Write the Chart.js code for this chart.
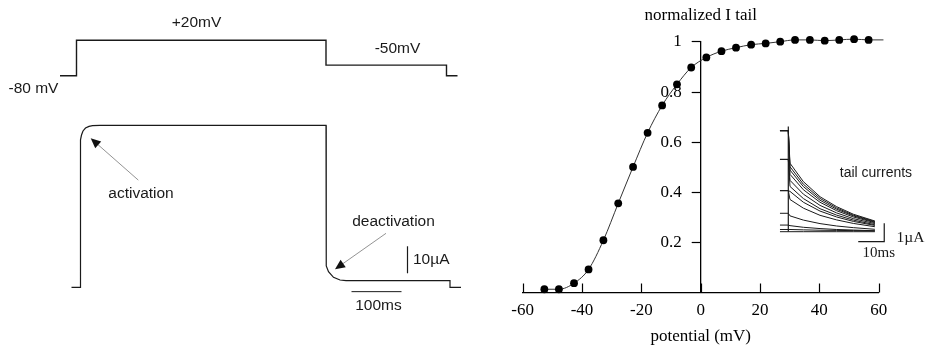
<!DOCTYPE html>
<html>
<head>
<meta charset="utf-8">
<script src="https://cdn.jsdelivr.net/npm/chart.js@4.4.1/dist/chart.umd.min.js"></script>
<style>
  html, body { margin: 0; padding: 0; background: #fff; }
  #wrap { position: relative; width: 928px; height: 347px; overflow: hidden; }
  canvas { position: absolute; }
  #protocol { left: 0; top: 0; }
  #curve { left: 480px; top: 0; }
  #tails { left: 770px; top: 120px; }
</style>
</head>
<body>
<div id="wrap">
  <canvas id="protocol" width="470" height="347"></canvas>
  <canvas id="curve" width="448" height="347"></canvas>
  <canvas id="tails" width="158" height="140"></canvas>
</div>
<script>
// ---- left panel: voltage step and the current it evokes (ms / mV / µA)
const protocolTime = [0, 33, 33, 532, 532, 773, 773, 795];
const protocolVolt = [-80, -80, 20, 20, -50, -50, -80, -80];

const currentTime = [23, 41, 41, 43, 46, 51, 58, 65, 80, 532, 532, 533, 537, 547, 560, 572, 780, 780, 802];
const currentAmp  = [0, 0, 54.6, 56.4, 57.9, 59.0, 59.6, 59.9, 60, 60, 10.1, 7.9, 5.8, 3.7, 2.7, 2.5, 2.5, 0, 0];

const barTimeMs = [583, 683];     // 100 ms bar
const barAmpUA = [5.2, 15.2];     // 10 µA bar

// ---- right panel: activation curve
const potential = [-52.7, -47.8, -42.7, -37.8, -32.8, -27.8, -22.8, -17.9, -13, -8, -3.2, 1.9,
                   7, 11.9, 17, 21.9, 26.8, 31.8, 36.8, 41.8, 46.7, 51.7, 56.6, 61.6];
const normTail = [0.013, 0.013, 0.037, 0.092, 0.208, 0.355, 0.50, 0.636, 0.745, 0.829, 0.896, 0.936,
                  0.961, 0.975, 0.987, 0.992, 0.999, 1.006, 1.006, 1.003, 1.006, 1.009, 1.006, 1.006];
const xTicks = [-60, -40, -20, 0, 20, 40, 60];
const yTicks = [0.2, 0.4, 0.6, 0.8, 1];

// ---- inset: tail currents (ms / µA)
const tailTime = [-3.2, 0, 0.65, 5.8, 12.2, 18.6, 25, 33.3];
const tailPre = [5.49, 5.49, 5.49, 5.49, 3.93, 3.93, 2.23, 2.23, 1.0, 0.36, 0.12, 0];
const tailDecay = [
  [3.72, 2.72, 1.90, 1.36, 0.95, 0.58],
  [3.53, 2.58, 1.81, 1.29, 0.90, 0.55],
  [3.35, 2.45, 1.71, 1.22, 0.86, 0.52],
  [3.12, 2.28, 1.60, 1.14, 0.80, 0.49],
  [2.79, 2.04, 1.43, 1.02, 0.71, 0.44],
  [2.46, 1.80, 1.25, 0.90, 0.63, 0.38],
  [2.19, 1.60, 1.12, 0.80, 0.56, 0.34],
  [1.75, 1.28, 0.89, 0.64, 0.45, 0.27],
  [0.86, 0.63, 0.44, 0.31, 0.22, 0.13],
  [0.33, 0.24, 0.17, 0.12, 0.09, 0.05],
  [0.12, 0.10, 0.08, 0.07, 0.06, 0.05],
  [0, 0, 0, 0, 0, 0]
];
const spikeTime = [0, 0];
const spikeAmp = [5.71, 0];
const tailBarTime = [26.9, 36.9];   // 10 ms
const tailBarAmp = [-0.54, 0.46];   // 1 µA

const SANS = "'Liberation Sans', Arial, sans-serif";
const SERIF = "'Liberation Serif', 'Times New Roman', serif";

const pts = (xs, ys) => xs.map((x, i) => ({ x: x, y: ys[i] }));

// text labels and arrows placed through the chart scales
const notes = {
  id: 'notes',
  afterDatasetsDraw(chart, args, opts) {
    const ctx = chart.ctx;
    const sx = chart.scales.x;
    ctx.save();
    (opts.arrows || []).forEach(a => {
      const sy = chart.scales[a.axis];
      const x1 = sx.getPixelForValue(a.from[0]), y1 = sy.getPixelForValue(a.from[1]);
      const x2 = sx.getPixelForValue(a.to[0]), y2 = sy.getPixelForValue(a.to[1]);
      const ang = Math.atan2(y2 - y1, x2 - x1);
      ctx.strokeStyle = '#777';
      ctx.lineWidth = 0.8;
      ctx.beginPath();
      ctx.moveTo(x1, y1);
      ctx.lineTo(x2 - 7 * Math.cos(ang), y2 - 7 * Math.sin(ang));
      ctx.stroke();
      ctx.fillStyle = '#111';
      ctx.beginPath();
      ctx.moveTo(x2, y2);
      ctx.lineTo(x2 - 10 * Math.cos(ang) + 4.5 * Math.sin(ang), y2 - 10 * Math.sin(ang) - 4.5 * Math.cos(ang));
      ctx.lineTo(x2 - 10 * Math.cos(ang) - 4.5 * Math.sin(ang), y2 - 10 * Math.sin(ang) + 4.5 * Math.cos(ang));
      ctx.closePath();
      ctx.fill();
    });
    (opts.items || []).forEach(n => {
      const sy = chart.scales[n.axis || 'y'];
      ctx.font = n.font || opts.font;
      ctx.fillStyle = '#1a1a1a';
      ctx.textAlign = n.align || 'center';
      ctx.textBaseline = 'middle';
      ctx.fillText(n.text, sx.getPixelForValue(n.x), sy.getPixelForValue(n.y));
    });
    ctx.restore();
  }
};

// x ticks of the curve point up into the plot; y ticks and labels sit left of the y axis at x = 0
const crossAxes = {
  id: 'crossAxes',
  afterDraw(chart) {
    const sx = chart.scales.x, sy = chart.scales.y, ctx = chart.ctx;
    ctx.save();
    ctx.strokeStyle = '#000';
    ctx.lineWidth = 1.2;
    sx.ticks.forEach(t => {
      const px = Math.round(sx.getPixelForValue(t.value)) + 0.5;
      ctx.beginPath();
      ctx.moveTo(px, sx.top);
      ctx.lineTo(px, sx.top - 9);
      ctx.stroke();
    });
    const ax = sx.getPixelForValue(0);
    ctx.font = '17px ' + SERIF;
    ctx.fillStyle = '#000';
    ctx.textAlign = 'right';
    ctx.textBaseline = 'middle';
    sy.ticks.forEach(t => {
      const py = Math.round(sy.getPixelForValue(t.value)) + 0.5;
      ctx.beginPath();
      ctx.moveTo(ax, py);
      ctx.lineTo(ax - 9, py);
      ctx.stroke();
      ctx.fillText(String(Math.round(t.value * 10) / 10), ax - 19, py);
    });
    ctx.restore();
  }
};

const trace = (data, yAxisID, width) => ({
  data: data, yAxisID: yAxisID, showLine: true, pointRadius: 0,
  borderColor: '#1a1a1a', borderWidth: width || 1.2, tension: 0, clip: false
});

new Chart(document.getElementById('protocol'), {
  type: 'scatter',
  data: {
    datasets: [
      trace(pts(protocolTime, protocolVolt), 'yV', 1.4),
      trace(pts(currentTime, currentAmp), 'yI', 1.2),
      trace(pts(barTimeMs, [-1.6, -1.6]), 'yI', 1),
      trace(pts([695, 695], barAmpUA), 'yI', 1.2)
    ]
  },
  options: {
    responsive: false,
    animation: false,
    layout: { padding: 0 },
    scales: {
      x: { type: 'linear', display: false, min: -120, max: 820 },
      yV: { type: 'linear', display: false, min: -843.9, max: 133.5 },
      yI: { type: 'linear', display: false, min: -22.1, max: 106.4 }
    },
    plugins: {
      legend: { display: false },
      tooltip: { enabled: false },
      notes: {
        font: '15.5px ' + SANS,
        items: [
          { text: '+20mV', x: 273, y: 70, axis: 'yV' },
          { text: '-50mV', x: 675, y: -4.5, axis: 'yV' },
          { text: '-80 mV', x: -103, y: -117, axis: 'yV', align: 'left' },
          { text: 'activation', x: 162, y: 34.6, axis: 'yI' },
          { text: 'deactivation', x: 667, y: 24.3, axis: 'yI' },
          { text: '10µA', x: 706, y: 10.1, axis: 'yI', align: 'left' },
          { text: '100ms', x: 637, y: -6.9, axis: 'yI' }
        ],
        arrows: [
          { from: [156.6, 39.7], to: [61.4, 55.2], axis: 'yI' },
          { from: [652, 20], to: [550, 6.7], axis: 'yI' }
        ]
      }
    }
  },
  plugins: [notes]
});

const serifFont = { family: SERIF, size: 17 };

new Chart(document.getElementById('curve'), {
  type: 'scatter',
  data: {
    datasets: [{
      data: pts(potential, normTail),
      showLine: true,
      cubicInterpolationMode: 'monotone',
      borderColor: '#333',
      borderWidth: 1,
      pointRadius: 3.9,
      pointBackgroundColor: '#000',
      pointBorderColor: '#000',
      pointBorderWidth: 0,
      clip: false
    }]
  },
  options: {
    responsive: false,
    animation: false,
    layout: { padding: { left: 42.7, right: 49.3, top: 0, bottom: 0 } },
    scales: {
      x: {
        type: 'linear', min: -60, max: 60,
        afterBuildTicks: s => { s.ticks = xTicks.map(v => ({ value: v })); },
        afterFit: s => { s.height = 54.5; },
        ticks: { color: '#000', font: serifFont, padding: 8, maxRotation: 0 },
        grid: { display: true, drawOnChartArea: false, drawTicks: false },
        border: { display: true, color: '#000', width: 1.3 },
        title: { display: true, text: 'potential (mV)', color: '#000', font: serifFont, padding: { top: 0, bottom: 0 } }
      },
      y: {
        type: 'linear', min: 0, max: 1, position: { x: 0 },
        afterBuildTicks: s => { s.ticks = yTicks.map(v => ({ value: v })); },
        ticks: { display: false },
        grid: { display: true, drawOnChartArea: false, drawTicks: false },
        border: { display: true, color: '#000', width: 1.3 }
      }
    },
    plugins: {
      legend: { display: false },
      tooltip: { enabled: false },
      title: { display: true, text: 'normalized I tail', color: '#000', font: { family: SERIF, size: 17, weight: 'normal' }, padding: { top: 5, bottom: 16 } }
    }
  },
  plugins: [crossAxes]
});

const tailSets = tailDecay.map((d, i) =>
  trace(pts(tailTime, [tailPre[i], tailPre[i]].concat(d)), 'y', 1));
tailSets.push(trace(pts(spikeTime, spikeAmp), 'y', 1.2));
tailSets.push(trace(pts([tailBarTime[0], tailBarTime[1], tailBarTime[1]], [tailBarAmp[0], tailBarAmp[0], tailBarAmp[1]]), 'y', 1.2));

new Chart(document.getElementById('tails'), {
  type: 'scatter',
  data: { datasets: tailSets },
  options: {
    responsive: false,
    animation: false,
    layout: { padding: 0 },
    scales: {
      x: { type: 'linear', display: false, min: -7.04, max: 53.73 },
      y: { type: 'linear', display: false, min: -1.538, max: 6.07 }
    },
    plugins: {
      legend: { display: false },
      tooltip: { enabled: false },
      notes: {
        font: '14px ' + SANS,
        items: [
          { text: 'tail currents', x: 33.7, y: 3.19 },
          { text: '1µA', x: 41.6, y: -0.36, align: 'left', font: '15.5px ' + SERIF },
          { text: '10ms', x: 34.8, y: -1.17, font: '15px ' + SERIF }
        ]
      }
    }
  },
  plugins: [notes]
});
</script>
</body>
</html>
